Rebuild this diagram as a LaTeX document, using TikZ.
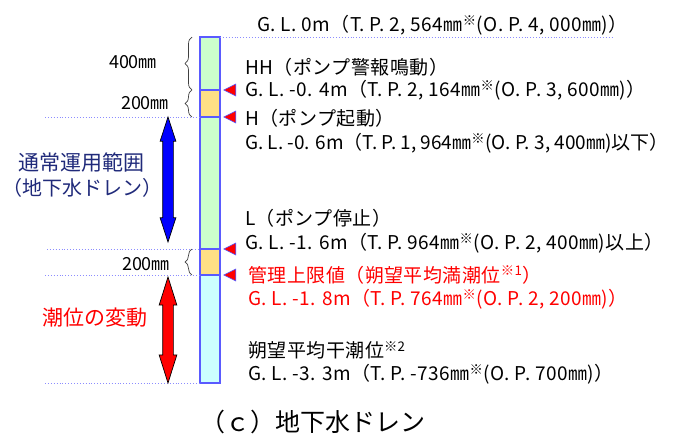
\documentclass[tikz,border=0pt]{standalone}
\usepackage{fontspec}
\setmainfont{Noto Sans CJK JP}
\usetikzlibrary{shapes.geometric, shapes.arrows, decorations.pathreplacing}
\definecolor{cPozo}{HTML}{5A5AFF}
\definecolor{cVerde}{HTML}{CCFFCC}
\definecolor{cAmar}{HTML}{FFE085}
\definecolor{cCian}{HTML}{CCFFFF}
\definecolor{cNivel}{HTML}{8C8CFF}
\definecolor{cNavy}{HTML}{202A7A}
\definecolor{cRojo}{HTML}{FF0000}
\newcommand{\kome}[1][]{\textsuperscript{※#1}}

\begin{document}
\begin{tikzpicture}[
    x=1pt, y=-1pt,
    font=\fontsize{19}{22}\selectfont,
    seg/.style={draw=cPozo, line width=1.1pt},
    nivel/.style={cNivel, dotted, line width=0.9pt},
    marca/.style={isosceles triangle, isosceles triangle stretches=true,
                  shape border rotate=180, fill=cRojo, draw=cPozo, line width=0.6pt,
                  minimum height=12, minimum width=12, inner sep=0pt, anchor=apex},
    llave/.style={decorate, decoration={brace, amplitude=7pt}, line width=0.7pt,
                  black!75},
    txt/.style={anchor=west, inner sep=0pt,
                font=\fontsize{19}{22}\selectfont\addfontfeature{LetterSpace=2.5}},
    dim/.style={inner sep=0pt, font=\fontsize{18}{21}\selectfont},
    izq/.style={inner sep=0pt, font=\fontsize{21}{24}\selectfont},
    rango/.style={double arrow, draw=black, line width=0.7pt, rotate=90,
                  inner sep=5pt, double arrow tip angle=36},
]
\useasboundingbox (0,0) rectangle (679,437);

% ===================== Pozo (columna de niveles) =====================
\coordinate (gl0) at (200,37);
\coordinate (hh) at (200,90);
\coordinate (h) at (200,117);
\coordinate (l) at (200,249);
\coordinate (kan) at (200,275);
\coordinate (fondo) at (200,383);

\draw[seg, fill=cVerde] (gl0) rectangle ([xshift=20]hh);
\draw[seg, fill=cAmar] (hh) rectangle ([xshift=20]h);
\draw[seg, fill=cVerde] (h) rectangle ([xshift=20]l);
\draw[seg, fill=cAmar] (l) rectangle ([xshift=20]kan);
\draw[seg, fill=cCian] (kan) rectangle ([xshift=20]fondo);

% ===================== Lineas de nivel =====================
\draw[nivel] ([xshift=20]gl0) -- (613,37);
\draw[nivel] (45,117) -- (h);
\draw[nivel] (47,249) -- (l);
\draw[nivel] (45,275) -- (kan);
\draw[nivel] (45,383) -- (fondo);

% ===================== Marcas =====================
\node[marca] (mHH) at ([xshift=23]hh) {};
\node[marca] (mH) at ([xshift=23]h) {};
\node[marca] (mL) at ([xshift=23]l) {};
\node[marca] (mKan) at ([xshift=23]kan) {};

% ===================== Llaves =====================
\draw[llave] (192,90) -- (192,37);
\node[dim] (d400) at (133,62) {400㎜};
\draw[llave] (192,117) -- (192,90);
\node[dim] (d200a) at (145,103) {200㎜};
\draw[llave] (192,275) -- (192,249);
\node[dim] (d200b) at (146,264) {200㎜};

% ===================== Rangos =====================
\node[rango, fill=blue, minimum height=125pt, double arrow head extend=2.5pt]
      (rUso) at (168,179.5) {};
\node[izq, text=cNavy] (tUso) at (81,163) {通常運用範囲};
\node[izq, text=cNavy, font=\fontsize{20}{23}\selectfont] (tUso2) at (82,188)
      {\kern-0.4em（地下水ドレン）\kern-0.4em};

\node[rango, fill=cRojo, minimum height=106pt, double arrow head extend=3.5pt,
      double arrow tip angle=35] (rMarea) at (168,330) {};
\node[izq, text=cRojo] (tMarea) at (95,318) {潮位の変動};

% ===================== Textos de nivel =====================
\node[txt] (t0) at (257,25) {G. L. 0m（T. P. 2, 564㎜\kome(O. P. 4, 000㎜)）};
\node[txt] (tHH) at (245,67) {HH（ポンプ警報鳴動）};
\node[txt] (tHHv) at (245,90) {G. L. -0. 4m（T. P. 2, 164㎜\kome(O. P. 3, 600㎜)）};
\node[txt] (tH) at (245,118) {H（ポンプ起動）};
\node[txt, font=\fontsize{19}{22}\selectfont] (tHv) at (245,143)
      {G. L. -0. 6m（T. P. 1, 964㎜\kome(O. P. 3, 400㎜)以下）};
\node[txt] (tL) at (245,218) {L（ポンプ停止）};
\node[txt] (tLv) at (245,243) {G. L. -1. 6m（T. P. 964㎜\kome(O. P. 2, 400㎜)以上）};
\node[txt, text=cRojo] (tKan) at (248,275) {管理上限値（朔望平均満潮位\kome[1]）};
\node[txt, text=cRojo] (tKanv) at (248,299) {G. L. -1. 8m（T. P. 764㎜\kome(O. P. 2, 200㎜)）};
\node[txt] (tBajo) at (248,350) {朔望平均干潮位\kome[2]};
\node[txt] (tBajov) at (248,374) {G. L. -3. 3m（T. P. -736㎜\kome(O. P. 700㎜)）};

% ===================== Titulo =====================
\node[font=\fontsize{25}{28}\selectfont, inner sep=0pt] (titulo) at (313,422)
      {（ｃ）地下水ドレン};

\end{tikzpicture}
\end{document}
